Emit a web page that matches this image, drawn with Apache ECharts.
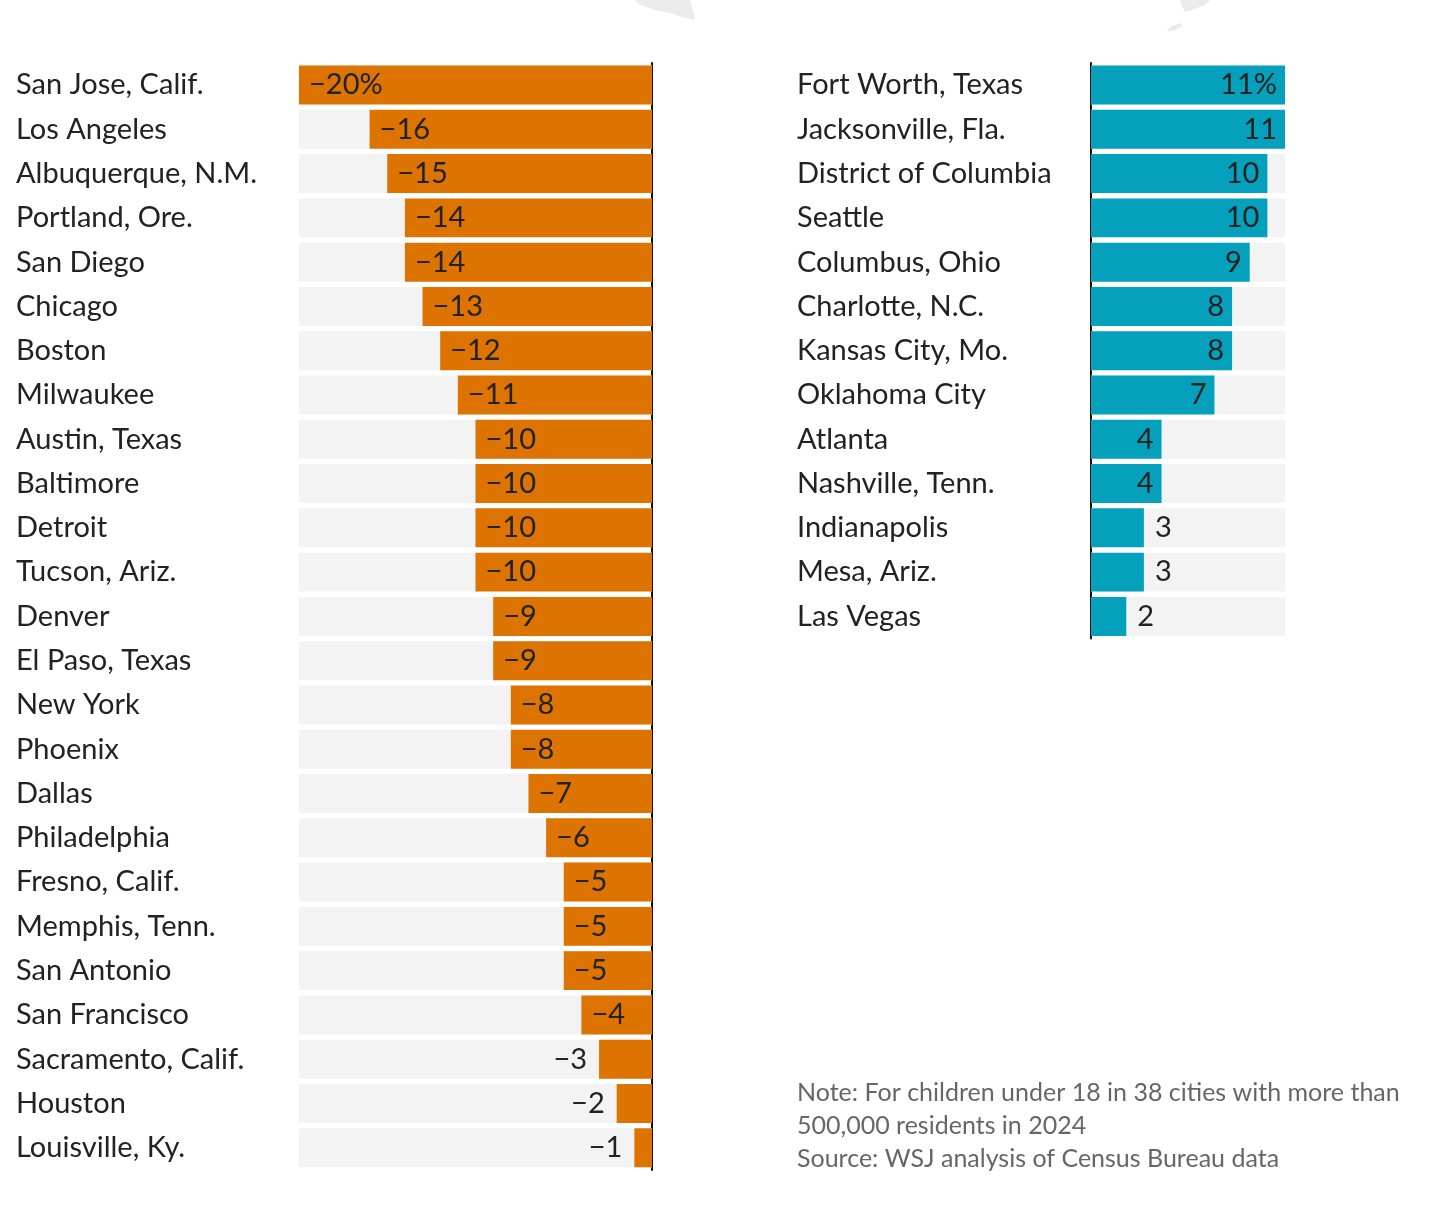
<!DOCTYPE html>
<html>
<head>
<meta charset="utf-8">
<script src="https://cdn.jsdelivr.net/npm/echarts@6/dist/echarts.min.js"></script>
<style>
html,body{margin:0;padding:0;background:#fff;}
#chart{width:1444px;height:1208px;}
</style>
</head>
<body>
<div id="chart"></div>
<script>
const leftCities = ["San Jose, Calif.","Los Angeles","Albuquerque, N.M.","Portland, Ore.","San Diego","Chicago","Boston","Milwaukee","Austin, Texas","Baltimore","Detroit","Tucson, Ariz.","Denver","El Paso, Texas","New York","Phoenix","Dallas","Philadelphia","Fresno, Calif.","Memphis, Tenn.","San Antonio","San Francisco","Sacramento, Calif.","Houston","Louisville, Ky."];
const leftValues = [-20,-16,-15,-14,-14,-13,-12,-11,-10,-10,-10,-10,-9,-9,-8,-8,-7,-6,-5,-5,-5,-4,-3,-2,-1];
const rightCities = ["Fort Worth, Texas","Jacksonville, Fla.","District of Columbia","Seattle","Columbus, Ohio","Charlotte, N.C.","Kansas City, Mo.","Oklahoma City","Atlanta","Nashville, Tenn.","Indianapolis","Mesa, Ariz.","Las Vegas"];
const rightValues = [11,11,10,10,9,8,8,7,4,4,3,3,2];
const noteLines = ["Note: For children under 18 in 38 cities with more than","500,000 residents in 2024","Source: WSJ analysis of Census Bureau data"];

const FONT = 'Lato';
const TXT = '#222222';
const fmt = (v, i) => (v < 0 ? '\u2212' + Math.abs(v) : String(v)) + (i === 0 ? '%' : '');

const rowPitch = 44.28;
const gridTop = 62.9;

const chart = echarts.init(document.getElementById('chart'), null, {renderer: 'canvas'});

const leftData = leftValues.map((v, i) => ({
  value: v,
  label: Math.abs(v) <= 3 ? {position: 'left', distance: 12} : {position: 'insideLeft', distance: 10}
}));
const rightData = rightValues.map((v, i) => ({
  value: v,
  label: Math.abs(v) <= 3 ? {position: 'right', distance: 11} : {position: 'insideRight', distance: 8}
}));

const labelStyle = {show: true, color: TXT, fontFamily: FONT, fontSize: 29, padding: [5, 0, 0, 0],
  formatter: p => fmt(p.value, p.dataIndex)};

const option = {
  animation: false,
  backgroundColor: '#ffffff',
  grid: [
    {left: 299, width: 353, top: gridTop, height: rowPitch * leftCities.length, containLabel: false},
    {left: 1091, width: 194, top: gridTop, height: rowPitch * rightCities.length, containLabel: false}
  ],
  xAxis: [
    {type: 'value', gridIndex: 0, min: -20, max: 0, show: false},
    {type: 'value', gridIndex: 1, min: 0, max: 11, show: false}
  ],
  yAxis: [
    {type: 'category', gridIndex: 0, data: leftCities, inverse: true, position: 'left',
      axisLine: {show: false}, axisTick: {show: false},
      axisLabel: {align: 'left', margin: 283, color: TXT, fontFamily: FONT, fontSize: 29, padding: [5, 0, 0, 0]}},
    {type: 'category', gridIndex: 0, data: leftCities, inverse: true, position: 'right',
      axisLine: {show: true, lineStyle: {color: '#111', width: 2}}, axisTick: {show: false},
      axisLabel: {show: false}},
    {type: 'category', gridIndex: 1, data: rightCities, inverse: true, position: 'left',
      axisLine: {show: true, lineStyle: {color: '#111', width: 2}}, axisTick: {show: false},
      axisLabel: {align: 'left', margin: 294, color: TXT, fontFamily: FONT, fontSize: 29, padding: [5, 0, 0, 0]}}
  ],
  series: [
    {type: 'bar', xAxisIndex: 0, yAxisIndex: 0, data: leftData, barCategoryGap: '12%',
      itemStyle: {color: '#dd7300'}, showBackground: true, backgroundStyle: {color: '#f3f3f3'},
      label: labelStyle, z: 2},
    {type: 'bar', xAxisIndex: 1, yAxisIndex: 2, data: rightData, barCategoryGap: '12%',
      itemStyle: {color: '#05a0bb'}, showBackground: true, backgroundStyle: {color: '#f3f3f3'},
      label: labelStyle, z: 2}
  ],
  graphic: [
    {type: 'polygon', shape: {points: [[635,0],[690,0],[693,10],[695,20],[685,18],[670,13],[655,10],[640,5]]}, style: {fill: '#ebebeb'}, silent: true},
    {type: 'polygon', shape: {points: [[1180,0],[1210,0],[1205,5],[1192,10],[1185,12],[1182,6]]}, style: {fill: '#ebebeb'}, silent: true},
    {type: 'polygon', shape: {points: [[1167,32],[1170,27],[1180,23],[1183,26],[1175,30]]}, style: {fill: '#ebebeb'}, silent: true},
    ...noteLines.map((t, i) => ({
      type: 'text', left: 797, top: 1080 + i * 33,
      style: {text: t, fill: '#666666', font: '25px ' + FONT}
    }))
  ]
};
chart.setOption(option);
</script>
</body>
</html>
